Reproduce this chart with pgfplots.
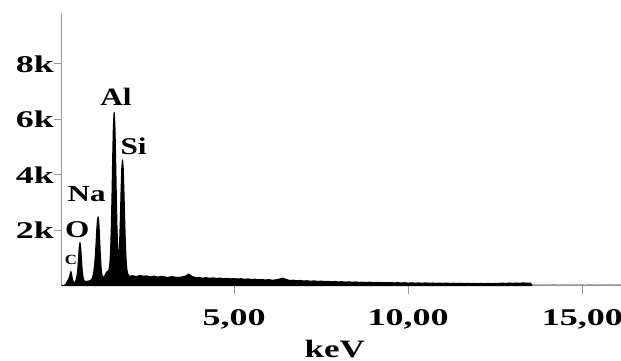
\documentclass[border=0pt]{standalone}
\usepackage{pgfplots}
\pgfplotsset{compat=1.18}
\usepackage{pgfplotstable}
\usepackage{fontspec}
\setmainfont{Liberation Serif}

\pgfplotstableread{
x y
0.063 0
0.10 0
0.14 10
0.16 30
0.18 60
0.20 110
0.22 150
0.24 190
0.26 250
0.28 320
0.30 420
0.32 500
0.34 380
0.36 230
0.38 150
0.40 110
0.42 100
0.44 120
0.46 170
0.48 250
0.50 380
0.52 620
0.54 1000
0.56 1380
0.58 1545
0.60 1350
0.62 950
0.64 560
0.66 330
0.68 220
0.70 170
0.72 150
0.74 140
0.76 150
0.78 145
0.80 160
0.82 150
0.84 165
0.86 170
0.88 180
0.90 200
0.92 230
0.94 290
0.96 380
0.98 520
1.00 740
1.02 1050
1.04 1480
1.06 1950
1.08 2330
1.10 2480
1.12 2250
1.14 1750
1.16 1150
1.18 700
1.20 450
1.22 330
1.24 300
1.26 310
1.28 330
1.30 370
1.32 420
1.34 470
1.36 500
1.38 520
1.40 500
1.42 620
1.44 820
1.46 1260
1.48 2080
1.50 3250
1.52 4640
1.54 5790
1.56 6240
1.58 5790
1.60 4640
1.62 3250
1.64 2100
1.66 1320
1.68 1000
1.70 1100
1.72 1600
1.74 2410
1.76 3390
1.78 4210
1.80 4530
1.82 4210
1.84 3390
1.86 2400
1.88 1540
1.90 950
1.92 620
1.94 460
1.96 390
1.98 350
2.00 335
2.1 350
2.2 315
2.3 365
2.4 330
2.5 345
2.6 305
2.7 335
2.8 300
2.9 325
3.0 310
3.1 290
3.2 318
3.3 302
3.4 285
3.5 308
3.6 335
3.7 410
3.8 322
3.9 280
4.0 288
4.1 262
4.2 282
4.3 257
4.4 272
4.5 252
4.6 266
4.7 242
4.8 256
4.9 236
5.0 250
5.1 230
5.2 245
5.3 220
5.4 235
5.5 215
5.6 225
5.7 205
5.8 215
5.9 195
6.0 210
6.1 190
6.2 200
6.3 230
6.4 265
6.5 215
6.6 180
6.7 190
6.8 170
6.9 180
7.0 160
7.1 170
7.2 150
7.3 165
7.4 145
7.5 155
7.6 140
7.7 150
7.8 130
7.9 145
8.0 125
8.1 135
8.2 120
8.3 130
8.4 115
8.5 125
8.6 110
8.7 120
8.8 105
8.9 118
9.0 100
9.1 112
9.2 98
9.3 108
9.4 95
9.5 105
9.6 90
9.7 102
9.8 88
9.9 98
10.0 85
10.1 95
10.2 82
10.3 92
10.4 80
10.5 90
10.6 78
10.7 88
10.8 76
10.9 86
11.0 75
11.1 84
11.2 72
11.3 82
11.4 70
11.5 80
11.6 68
11.7 78
11.8 66
11.9 76
12.0 65
12.1 75
12.2 64
12.3 74
12.4 66
12.5 76
12.6 70
12.7 85
12.8 72
12.9 90
13.0 75
13.1 88
13.2 78
13.3 92
13.4 80
13.5 85
13.55 25
}\spectrum

\pgfplotstableread{
x y
13.55 25
13.7 20
13.8 30
13.9 18
14.0 28
14.1 20
14.2 32
14.3 18
14.4 26
14.5 20
14.6 30
14.7 18
14.8 28
14.9 20
15.0 26
15.1 18
15.2 30
15.3 20
15.4 28
15.5 18
15.6 26
15.7 22
15.8 30
15.9 20
16.0 26
16.108 22
}\tail

\begin{document}
\begin{tikzpicture}
\path[use as bounding box] (-31pt,-37.25pt) rectangle (279.5pt,142.75pt);
\begin{axis}[
  at={(0,0)}, anchor=south west,
  width=279.5pt, height=136.25pt, scale only axis,
  xmin=0.063, xmax=16.108, ymin=0, ymax=9840,
  axis x line*=bottom, axis y line*=left,
  axis line style={-, draw=gray!80, line width=0.5pt},
  tick align=outside, major tick length=4pt,
  tick style={gray!80, line width=0.5pt},
  xtick={5,10,15}, xticklabels={{5,00},{10,00},{15,00}},
  ytick={2000,4000,6000,8000}, yticklabels={2k,4k,6k,8k},
  scaled y ticks=false, scaled x ticks=false,
  /pgf/number format/assume math mode=true,
  every tick label/.append style={font=\fontsize{12}{12}\selectfont\bfseries, xscale=1.5},
  xticklabel style={yshift=-4.5pt},
  yticklabel style={xshift=3.5pt},
  xlabel={keV},
  xlabel style={at={(axis description cs:0.488,0)}, anchor=center, yshift=-31.75pt,
    font=\fontsize{12.5}{12.5}\selectfont\bfseries, xscale=1.4},
  clip=false,
]
\addplot[fill=black, draw=black, line width=0.6pt, line join=round] table[x=x,y=y]{\spectrum} \closedcycle;
\addplot[draw=gray, line width=0.4pt] table[x=x,y=y]{\tail};
\node[font=\fontsize{12.5}{12.5}\selectfont\bfseries, xscale=1.25] at (axis cs:1.61,6820) {Al};
\node[font=\fontsize{12}{12}\selectfont\bfseries, xscale=1.3] at (axis cs:2.12,5010) {Si};
\node[font=\fontsize{11.5}{11.5}\selectfont\bfseries, xscale=1.35] at (axis cs:0.77,3300) {Na};
\node[font=\fontsize{12}{12}\selectfont\bfseries, xscale=1.3] at (axis cs:0.50,2000) {O};
\node[font=\fontsize{7}{7}\selectfont\bfseries, xscale=1.2] at (axis cs:0.32,915) {C};
\end{axis}
\end{tikzpicture}
\end{document}
